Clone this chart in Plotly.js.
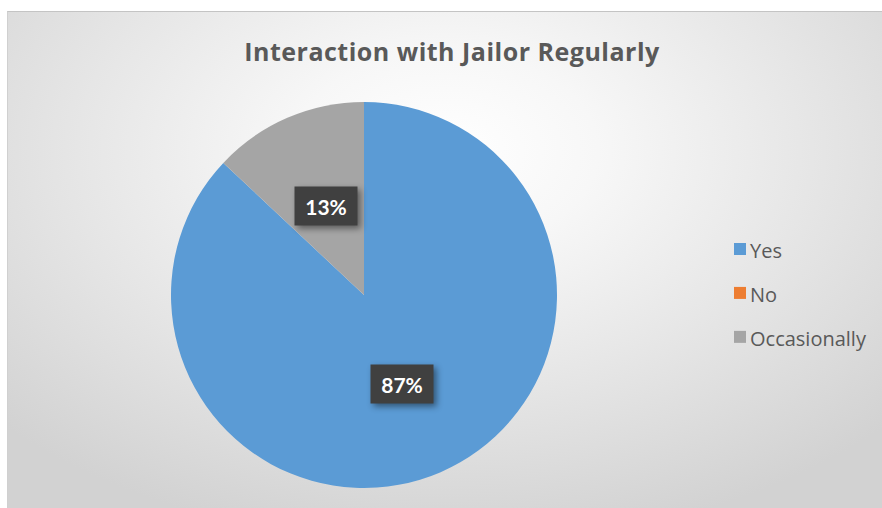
<!DOCTYPE html>
<html>
<head>
<meta charset="utf-8">
<script src="https://cdn.plot.ly/plotly-3.0.1.min.js"></script>
<style>
  html, body { margin: 0; padding: 0; background: #ffffff; }
  #wrap { position: relative; width: 882px; height: 508px; overflow: hidden; }
  #bg {
    position: absolute; left: 7px; top: 11px; right: 0; bottom: 0;
    border-top: 1px solid #c4c4c4; border-left: 1px solid #d0d0d0;
    background: radial-gradient(ellipse 70% 80% at 50% 28%, #ffffff 0%, #f7f7f7 25%, #e6e6e6 60%, #d2d2d2 100%);
  }
  #chart { position: absolute; left: 0; top: 0; width: 882px; height: 508px; }
  .annotation-text-g rect.bg { filter: drop-shadow(3px 3px 3px rgba(0,0,0,0.45)); }
  .legendtext { transform: translate(-10px, -3px); }
  .gtitle { letter-spacing: 0.5px; }
</style>
</head>
<body>
<div id="wrap">
  <div id="bg"></div>
  <div id="chart"></div>
</div>
<script>
// ---- data ----
const categories = ["Yes", "No", "Occasionally"];
const values = [87, 0, 13];
const colors = ["#5B9BD5", "#ED7D31", "#A5A5A5"];
const chartTitle = "Interaction with Jailor Regularly";

// ---- layout constants ----
const W = 882, H = 508;
const cx = 364, cy = 295, R = 193;
const domX = [(cx - R) / W, (cx + R) / W];
const domY = [(H - cy - R) / H, (H - cy + R) / H];

// label annotations placed along each slice bisector at half radius
const total = values.reduce((a, b) => a + b, 0);
const annotations = [];
let cum = 0;
values.forEach((v, i) => {
  if (v > 0) {
    const mid = (cum + v / 2) / total * 2 * Math.PI;
    const px = cx + 0.5 * R * Math.sin(mid);
    const py = cy - 0.5 * R * Math.cos(mid);
    annotations.push({
      x: px / W, y: 1 - py / H, xref: "paper", yref: "paper",
      xanchor: "center", yanchor: "middle",
      text: "<b>" + Math.round(v / total * 100) + "%</b>",
      showarrow: false,
      font: { family: "Lato, 'Open Sans', sans-serif", size: 21, color: "#ffffff" },
      bgcolor: "#404040",
      width: 56, height: 32, borderpad: 3
    });
  }
  cum += v;
});

const trace = {
  type: "pie",
  labels: categories.map(c => "<span style='font-size:20px'>" + c + "</span>"),
  values: values,
  marker: { colors: colors, line: { width: 0 } },
  sort: false,
  direction: "clockwise",
  rotation: 0,
  textinfo: "none",
  hoverinfo: "label+percent",
  domain: { x: domX, y: domY },
  showlegend: true
};

const layout = {
  width: W, height: H,
  margin: { l: 0, r: 0, t: 0, b: 0 },
  paper_bgcolor: "rgba(0,0,0,0)",
  plot_bgcolor: "rgba(0,0,0,0)",
  title: {
    text: "<b>" + chartTitle + "</b>",
    x: 452 / W, xanchor: "center", xref: "paper",
    y: 1 - 52 / H, yanchor: "middle", yref: "paper",
    font: { family: "'Open Sans', Lato, sans-serif", size: 25, color: "#595959" }
  },
  legend: {
    x: 720 / W, xanchor: "left",
    y: 1 - 293 / H, yanchor: "middle",
    font: { family: "'Open Sans', Lato, sans-serif", size: 31.5, color: "#595959" },
    bgcolor: "rgba(0,0,0,0)",
    traceorder: "normal"
  },
  annotations: annotations
};

Plotly.newPlot("chart", [trace], layout, { displayModeBar: false, staticPlot: true });
</script>
</body>
</html>
